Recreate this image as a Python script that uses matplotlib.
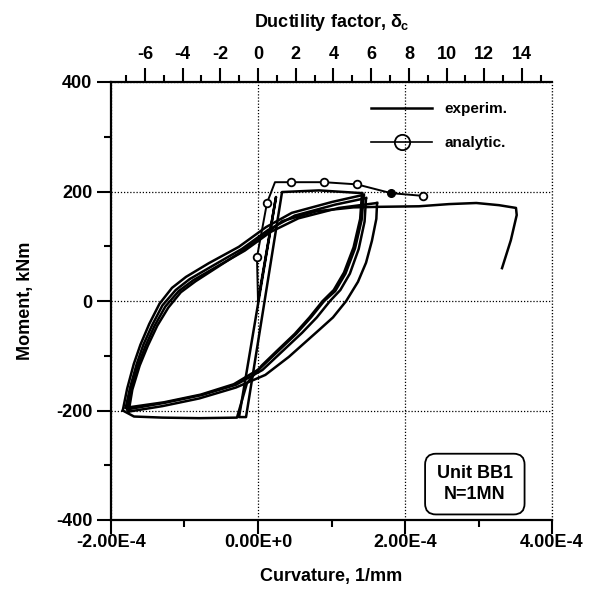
"""Moment-curvature hysteresis, unit BB1."""

import matplotlib
matplotlib.use("Agg")
import matplotlib.pyplot as plt
from matplotlib.ticker import MultipleLocator, FuncFormatter

plt.rcParams['font.family'] = ['Liberation Sans', 'DejaVu Sans']
plt.rcParams['font.weight'] = 'bold'
plt.rcParams['axes.unicode_minus'] = False
plt.rcParams['mathtext.fontset'] = 'custom'
plt.rcParams['mathtext.rm'] = 'Liberation Sans:bold'
plt.rcParams['mathtext.it'] = 'Liberation Sans:bold'
plt.rcParams['mathtext.bf'] = 'Liberation Sans:bold'

# curvature values in 1/mm, moment in kNm
# first cycle: elastic up, back down, plastic to the left
init_x = [0.0, 0.245e-4, -0.258e-4, -0.163e-4, 0.327e-4, 0.83e-4, 1.415e-4]
init_y = [0, 190, -212, -212, 199, 202, 197]
desc0_x = [1.415e-4, 1.39e-4, 1.30e-4, 1.17e-4, 1.03e-4, 0.88e-4, 0.70e-4, 0.50e-4,
           0.25e-4, 0.05e-4, -0.15e-4, -0.286e-4, -0.8e-4, -1.3e-4, -1.687e-4, -1.84e-4]
desc0_y = [197, 150, 98, 52, 20, 0, -30, -60, -92, -118, -150, -213, -214, -213, -211, -200]

# reloading / unloading branches of the cycles
asc1_x = [-1.84e-4, -1.78e-4, -1.69e-4, -1.60e-4, -1.48e-4, -1.34e-4, -1.17e-4, -0.98e-4,
          -0.67e-4, -0.26e-4, 0.11e-4, 0.46e-4, 1.01e-4, 1.44e-4]
asc1_y = [-200, -160, -115, -80, -42, -5, 24, 44, 69, 99, 135, 161, 181, 194]
desc1_x = [1.44e-4, 1.41e-4, 1.32e-4, 1.19e-4, 1.05e-4, 0.90e-4, 0.72e-4, 0.52e-4,
           0.27e-4, 0.02e-4, -0.33e-4, -0.78e-4, -1.28e-4, -1.80e-4]
desc1_y = [194, 148, 96, 50, 18, 0, -30, -60, -92, -124, -152, -171, -185, -195]
asc2_x = [-1.80e-4, -1.74e-4, -1.65e-4, -1.56e-4, -1.44e-4, -1.30e-4, -1.12e-4, -0.93e-4,
          -0.62e-4, -0.22e-4, 0.14e-4, 0.50e-4, 1.05e-4, 1.47e-4]
asc2_y = [-195, -158, -115, -80, -44, -8, 20, 40, 64, 95, 130, 156, 176, 188]
desc2_x = [1.47e-4, 1.45e-4, 1.37e-4, 1.25e-4, 1.12e-4, 0.98e-4, 0.80e-4, 0.60e-4,
           0.33e-4, 0.06e-4, -0.30e-4, -0.77e-4, -1.27e-4, -1.78e-4]
desc2_y = [188, 145, 95, 50, 20, 0, -30, -58, -92, -126, -153, -172, -186, -198]
asc3_x = [-1.78e-4, -1.72e-4, -1.63e-4, -1.53e-4, -1.41e-4, -1.26e-4, -1.08e-4, -0.88e-4,
          -0.57e-4, -0.18e-4, 0.17e-4, 0.55e-4, 1.10e-4, 1.62e-4]
asc3_y = [-198, -160, -117, -82, -46, -10, 18, 38, 62, 92, 126, 151, 170, 179]
desc3_x = [1.62e-4, 1.61e-4, 1.55e-4, 1.47e-4, 1.36e-4, 1.20e-4, 1.02e-4, 0.83e-4,
           0.42e-4, 0.10e-4, -0.30e-4, -0.80e-4, -1.30e-4, -1.76e-4]
desc3_y = [179, 150, 110, 70, 35, 0, -30, -53, -102, -135, -158, -178, -192, -202]

# last reloading and monotonic push to failure
final_x = [-1.76e-4, -1.71e-4, -1.61e-4, -1.50e-4, -1.37e-4, -1.22e-4, -1.05e-4, -0.85e-4,
           -0.55e-4, -0.25e-4, 0.10e-4, 0.33e-4, 0.80e-4, 1.30e-4, 1.65e-4, 2.19e-4,
           2.60e-4, 2.97e-4, 3.28e-4, 3.51e-4, 3.52e-4, 3.44e-4, 3.32e-4]
final_y = [-202, -162, -118, -82, -45, -12, 16, 36, 62, 88, 122, 146, 164, 171, 172, 173,
           177, 179, 175, 170, 157, 111, 60]

# analytic prediction
ana_x = [0.0, -0.014e-4, 0.122e-4, 0.231e-4, 0.449e-4, 0.898e-4, 1.347e-4, 1.81e-4, 2.245e-4]
ana_y = [0, 80, 179, 217, 217, 217, 213, 197, 192]
ana_open_x = [-0.014e-4, 0.122e-4, 0.449e-4, 0.898e-4, 1.347e-4, 2.245e-4]
ana_open_y = [80, 179, 217, 217, 213, 192]
ana_fill_x = [1.81e-4]
ana_fill_y = [197]

curv_per_ductility = 2.566e-5


def sci_label(v, pos):
    if abs(v) < 1e-12:
        return "0.00E+0"
    exp = 0
    m = v
    while abs(m) < 1:
        m *= 10
        exp -= 1
    return f"{m:.2f}E{exp}"


fig = plt.figure(figsize=(5.93, 5.89), dpi=100)
ax = fig.add_axes([111 / 593, 69 / 589, 441 / 593, 438 / 589])

lw = 1.8
exp_line, = ax.plot(init_x, init_y, color="black", lw=lw, label="experim.")
for bx, by in [(desc0_x, desc0_y), (asc1_x, asc1_y), (desc1_x, desc1_y),
               (asc2_x, asc2_y), (desc2_x, desc2_y), (asc3_x, asc3_y),
               (desc3_x, desc3_y), (final_x, final_y)]:
    ax.plot(bx, by, color="black", lw=lw)

ax.plot(ana_x, ana_y, color="black", lw=1.4)
ax.plot(ana_open_x, ana_open_y, ls="none", marker="o", ms=5.5, mfc="white",
        mec="black", mew=1.3)
ax.plot(ana_fill_x, ana_fill_y, ls="none", marker="o", ms=5.5, mfc="black",
        mec="black")
ana_leg, = ax.plot([], [], color="black", lw=1.2, marker="o", ms=11, mfc="none",
                   mec="black", mew=1.3, label="analytic.")

ax.set_xlim(-2e-4, 4e-4)
ax.set_ylim(-400, 400)
ax.xaxis.set_major_locator(MultipleLocator(2e-4))
ax.xaxis.set_minor_locator(MultipleLocator(1e-4))
ax.xaxis.set_major_formatter(FuncFormatter(sci_label))
ax.yaxis.set_major_locator(MultipleLocator(200))
ax.yaxis.set_minor_locator(MultipleLocator(100))

grid_style = dict(ls=(0, (1, 1.5)), color="black", lw=0.9)
ax.grid(True, which="major", **grid_style)
ax.axvline(4e-4, clip_on=False, **grid_style)
ax.set_axisbelow(True)
ax.spines["right"].set_visible(False)
ax.spines["top"].set_visible(False)
for s in ["left", "bottom"]:
    ax.spines[s].set_linewidth(1.6)
ax.tick_params(which="major", length=10, width=1.5, labelsize=13)
ax.tick_params(which="minor", length=5, width=1.5)
ax.tick_params(axis="x", pad=0)

top = ax.secondary_xaxis("top", functions=(lambda c: c / curv_per_ductility,
                                           lambda d: d * curv_per_ductility))
top.xaxis.set_major_locator(MultipleLocator(2))
top.xaxis.set_minor_locator(MultipleLocator(1))
top.tick_params(which="major", length=10, width=1.5, labelsize=13, pad=4)
top.tick_params(which="minor", length=5, width=1.5)
top.spines["top"].set_linewidth(1.6)
top.set_xlabel(r"Ductility factor, $\delta_{\mathbf{c}}$", fontsize=13, fontweight="bold",
               labelpad=13)

ax.set_xlabel("Curvature, 1/mm", fontsize=13, fontweight="bold", labelpad=12)
ax.set_ylabel("Moment, kNm", fontsize=13, fontweight="bold", labelpad=16)

ax.legend(handles=[exp_line, ana_leg], loc="upper right", bbox_to_anchor=(0.93, 0.985),
          frameon=False, handlelength=4.0, labelspacing=1.3,
          prop={"weight": "bold", "size": 11})

ax.text(0.825, 0.082, "Unit BB1\nN=1MN", transform=ax.transAxes, ha="center",
        va="center", fontsize=13, fontweight="bold", linespacing=1.25,
        bbox=dict(boxstyle="round,pad=0.65,rounding_size=0.6", fc="white",
                  ec="black", lw=1.3))

plt.savefig("out.png", dpi=100)
